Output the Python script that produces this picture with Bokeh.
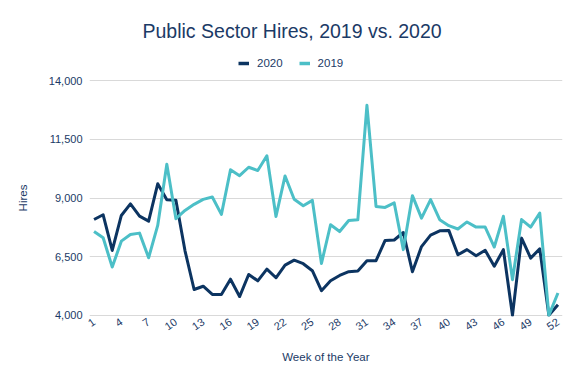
from bokeh.plotting import figure
from bokeh.layouts import column
from bokeh.models import Range1d, FixedTicker, NumeralTickFormatter, Legend, LegendItem
from bokeh.embed import file_html
from bokeh.resources import INLINE

weeks = list(range(1, 53))
hires_2020 = [8085, 8285, 6766, 8255, 8752, 8226, 8013, 9604, 8929, 8900,
              6750, 5100, 5240, 4890, 4890, 5540, 4800, 5740, 5470, 5970,
              5600, 6140, 6350, 6200, 5900, 5050, 5470, 5700, 5860, 5890,
              6330, 6330, 7190, 7210, 7530, 5860, 6930, 7420, 7600, 7620,
              6580, 6800, 6540, 6770, 6090, 6800, 4000, 7290, 6440, 6830,
              4000, 4450]
hires_2019 = [7574, 7306, 6056, 7162, 7447, 7503, 6455, 7830, 10440, 8120,
              8470, 8730, 8940, 9040, 8300, 10200, 9950, 10310, 10170, 10800,
              8210, 9940, 8950, 8670, 8900, 6210, 7860, 7570, 8040, 8070,
              12950, 8640, 8600, 8790, 6800, 9100, 8140, 8930, 8075, 7820,
              7680, 7980, 7760, 7760, 6910, 8220, 5520, 8080, 7760, 8360,
              4000, 4950]
series_names = ["2020", "2019"]
x_ticks = [1, 4, 7, 10, 13, 16, 19, 22, 25, 28, 31, 34, 37, 40, 43, 46, 49, 52]
y_ticks = [4000, 6500, 9000, 11500, 14000]

NAVY = "#1b3a66"
DARK = "#0c3461"
TEAL = "#4cbfc7"
FONT = "Liberation Sans"
W = 575
NAN = float("nan")

# ---- header: title + legend ----
head = figure(width=W, height=76, output_backend="svg", toolbar_location=None,
              x_axis_location=None, y_axis_location=None,
              x_range=Range1d(0, 1), y_range=Range1d(0, 1),
              min_border_left=0, min_border_right=0, min_border_bottom=0,
              min_border_top=44)
head.outline_line_color = None
head.grid.visible = False
head.title.text = "Public Sector Hires, 2019 vs. 2020"
head.title.align = "left"
head.title.offset = 53
head.title.text_font = FONT
head.title.text_font_size = "19.5px"
head.title.text_font_style = "normal"
head.title.text_color = NAVY
head.title.standoff = 5
# legend keys only (no visible data)
k20 = head.line([NAN], [NAN], line_color=DARK, line_width=3.5)
k19 = head.line([NAN], [NAN], line_color=TEAL, line_width=3.5)
legend = Legend(items=[LegendItem(label=series_names[0], renderers=[k20]),
                       LegendItem(label=series_names[1], renderers=[k19])],
                orientation="horizontal", location=(149, 5),
                padding=0, margin=0, spacing=16, glyph_width=11, glyph_height=16,
                label_height=16, label_standoff=8,
                border_line_color=None, background_fill_alpha=0,
                label_text_font=FONT, label_text_font_size="11.5px",
                label_text_color=NAVY)
head.add_layout(legend, "center")

# ---- main chart ----
p = figure(width=W, height=299, output_backend="svg", toolbar_location=None,
           title_location=None,
           x_range=Range1d(0.5, 52.5), y_range=Range1d(3950, 14050),
           min_border_left=89, min_border_right=13, min_border_top=3,
           min_border_bottom=59)
p.outline_line_color = None
p.background_fill_color = "white"
p.border_fill_color = "white"

p.line(weeks, hires_2020, line_color=DARK, line_width=3, line_join="round")
p.line(weeks, hires_2019, line_color=TEAL, line_width=3, line_join="round")

p.xgrid.grid_line_color = None
p.ygrid.grid_line_color = "#d9d9d9"
p.ygrid.grid_line_width = 1

p.xaxis.ticker = FixedTicker(ticks=x_ticks)
p.yaxis.ticker = FixedTicker(ticks=y_ticks)
p.yaxis.formatter = NumeralTickFormatter(format="0,0")
for ax in (p.xaxis, p.yaxis):
    ax.axis_line_color = None
    ax.major_tick_line_color = None
    ax.minor_tick_line_color = None
    ax.major_tick_out = 0
    ax.major_tick_in = 0
    ax.major_label_text_font = FONT
    ax.major_label_text_font_size = "11px"
    ax.major_label_text_color = NAVY
    ax.axis_label_text_font = FONT
    ax.axis_label_text_font_size = "11.5px"
    ax.axis_label_text_font_style = "normal"
    ax.axis_label_text_color = NAVY
p.xaxis.major_label_orientation = 0.6
p.xaxis.major_label_standoff = 4
p.yaxis.major_label_standoff = 7
p.xaxis.axis_label = "Week of the Year"
p.yaxis.axis_label = "Hires"
p.xaxis.axis_label_standoff = 14
p.yaxis.axis_label_standoff = 17

page = column(head, p, spacing=0)
open("out.html", "w").write(file_html(page, INLINE))
